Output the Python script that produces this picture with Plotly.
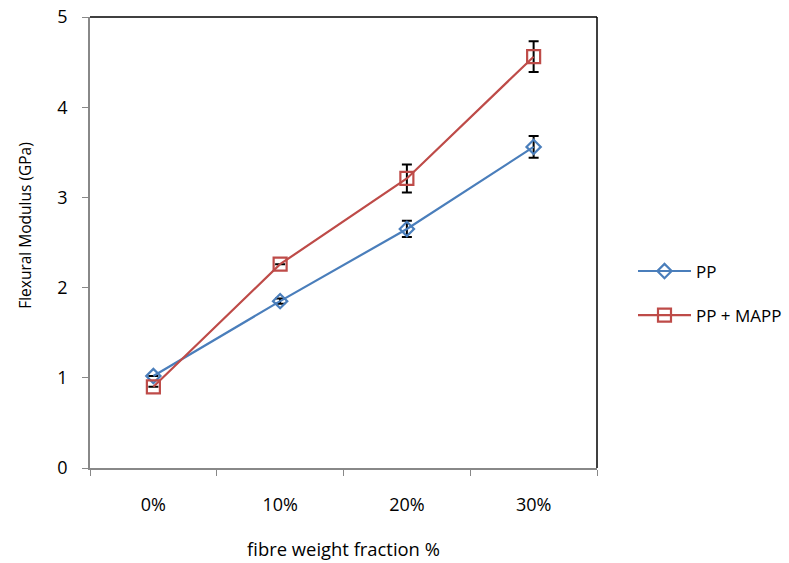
import plotly.graph_objects as go

categories = ["0%", "10%", "20%", "30%"]
pp = [1.02, 1.85, 2.65, 3.56]
pp_err = [0.0, 0.03, 0.09, 0.12]
mapp = [0.90, 2.26, 3.21, 4.56]
mapp_err = [0.0, 0.0, 0.155, 0.17]
y_title = "Flexural Modulus (GPa)"
x_title = "fibre weight fraction %"

FONT = "Open Sans"
blue = "#4A7EBB"
red = "#BE4B48"

fig = go.Figure()
fig.add_trace(go.Scatter(
    x=categories, y=pp, name="PP", mode="lines+markers", legendgroup="a",
    line=dict(color=blue, width=2.2),
    marker=dict(symbol="diamond-open", size=11, color=blue, line=dict(width=2.2)),
    error_y=dict(type="data", array=pp_err, color="black", thickness=2, width=5),
))
fig.add_trace(go.Scatter(
    x=categories, y=mapp, name="PP + MAPP", mode="lines+markers", legendgroup="b",
    line=dict(color=red, width=2.2),
    marker=dict(symbol="square-open", size=13, color=red, line=dict(width=2.2)),
    error_y=dict(type="data", array=mapp_err, color="black", thickness=2, width=5),
))

fig.update_layout(
    width=789, height=563,
    margin=dict(l=90, r=192, t=17, b=95, autoexpand=False),
    paper_bgcolor="white", plot_bgcolor="white",
    font=dict(family=FONT, size=18, color="black"),
    showlegend=True,
    legend=dict(x=1.071, y=0.387, yanchor="middle", xanchor="left",
                tracegroupgap=19, itemwidth=53, font=dict(size=17),
                bgcolor="rgba(0,0,0,0)"),
    shapes=[
        dict(type="line", xref="paper", yref="paper", x0=0, x1=1, y0=1, y1=1,
             line=dict(color="black", width=1.5)),
        dict(type="line", xref="paper", yref="paper", x0=1, x1=1, y0=0, y1=1,
             line=dict(color="black", width=1.5)),
    ],
    annotations=[
        dict(text=y_title, xref="paper", yref="paper", x=0, y=0.537,
             xanchor="center", yanchor="middle", xshift=-65, textangle=-90,
             showarrow=False, font=dict(size=15.5)),
    ],
)
fig.update_xaxes(
    type="category", range=[-0.5, 3.5], tickson="boundaries", automargin=False,
    showline=True, linecolor="#888888", linewidth=1.5,
    ticks="outside", ticklen=6, tickcolor="#888888",
    showgrid=False, zeroline=False, ticklabelstandoff=20,
    tickfont=dict(size=18),
    title=dict(text=x_title, standoff=28, font=dict(size=18.4)),
)
fig.update_yaxes(
    range=[0, 5], dtick=1, automargin=False, ticklabeloverflow="allow",
    showline=True, linecolor="#888888", linewidth=1.5,
    ticks="outside", ticklen=6, tickcolor="#888888",
    showgrid=False, zeroline=False, ticklabelstandoff=11,
    tickfont=dict(size=18),
)

fig.write_html("out.html", config={"displayModeBar": False},
               post_script="document.body.style.margin='0';")
